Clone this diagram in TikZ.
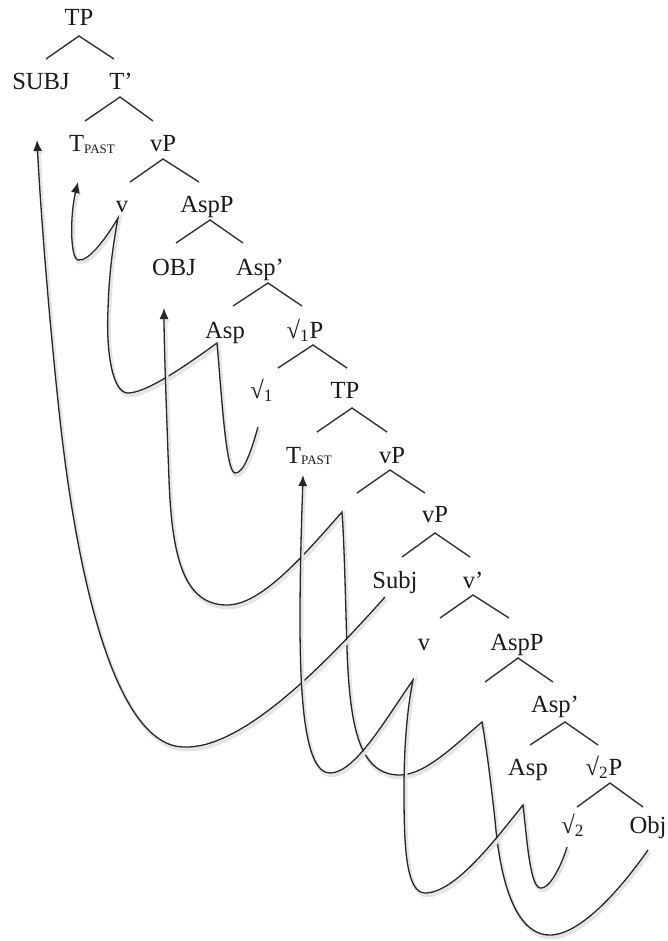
\documentclass[tikz,border=0pt]{standalone}
\usepackage{fontspec}
\setmainfont{Liberation Serif}
\usetikzlibrary{arrows.meta}
\newcommand\tpast{\raisebox{-0.8pt}{\fontsize{6.5}{7}\selectfont PAST}}
\begin{document}
\begin{tikzpicture}[x=0.5pt,y=-0.5pt,
  lbl/.style={anchor=base,inner sep=0pt,font=\fontsize{12.3}{14}\selectfont,text=black!90},
  br/.style={draw=black!80,line width=0.7pt},
  mv/.style={draw=black!85,line width=0.65pt,
    preaction={draw=black!10,line width=1.8pt,transform canvas={shift={(1.5,2.5)}}}},
  tip/.style={-{Latex[length=5.5pt,width=4.5pt]}}]
\useasboundingbox (0,0) rectangle (668,941);

% ---- labels ----
\node[lbl] (TPa) at (79,26) {TP};
\node[lbl] (SUBJ) at (41,90) {SUBJ};
\node[lbl] (Tbar) at (121,90) {T’};
\node[lbl] (Ta) at (92,152) {T\tpast};
\node[lbl] (vPa) at (163,152) {vP};
\node[lbl] (va) at (122,213) {v};
\node[lbl] (AspPa) at (207,213) {AspP};
\node[lbl] (OBJ) at (174,275) {OBJ};
\node[lbl] (Aspbara) at (260,275) {Asp’};
\node[lbl] (Aspa) at (225,338) {Asp};
\node[lbl] (RPa) at (305,338) {√\textsubscript{1}P};
\node[lbl] (Ra) at (262,398) {√\textsubscript{1}};
\node[lbl] (TPb) at (345,398) {TP};
\node[lbl] (Tb) at (309,463) {T\tpast};
\node[lbl] (vPb) at (392,463) {vP};
\node[lbl] (vPc) at (435,522) {vP};
\node[lbl] (Subj) at (395,588) {Subj};
\node[lbl] (vbar) at (473,588) {v’};
\node[lbl] (vb) at (424,650) {v};
\node[lbl] (AspPb) at (517,650) {AspP};
\node[lbl] (Aspbarb) at (555,712) {Asp’};
\node[lbl] (Aspb) at (528,775) {Asp};
\node[lbl] (RPb) at (604,775) {√\textsubscript{2}P};
\node[lbl] (Rb) at (573,833) {√\textsubscript{2}};
\node[lbl] (Obj) at (648,833) {Obj};

% ---- branches ----
\coordinate (b1) at (79,36);   \coordinate (b1l) at (46,59);   \coordinate (b1r) at (114,59);
\coordinate (b2) at (120,97);  \coordinate (b2l) at (85,121);  \coordinate (b2r) at (153,121);
\coordinate (b3) at (163,159); \coordinate (b3l) at (130,182); \coordinate (b3r) at (199,182);
\coordinate (b4) at (210,220); \coordinate (b4l) at (176,243); \coordinate (b4r) at (243,243);
\coordinate (b5) at (268,283); \coordinate (b5l) at (233,306); \coordinate (b5r) at (302,306);
\coordinate (b6) at (313,345); \coordinate (b6l) at (278,368); \coordinate (b6r) at (347,368);
\coordinate (b7) at (352,408); \coordinate (b7l) at (317,432); \coordinate (b7r) at (387,432);
\coordinate (b8) at (390,470); \coordinate (b8l) at (357,493); \coordinate (b8r) at (425,493);
\coordinate (b9) at (435,533); \coordinate (b9l) at (402,557); \coordinate (b9r) at (470,557);
\coordinate (b10) at (473,595); \coordinate (b10l) at (440,618); \coordinate (b10r) at (509,618);
\coordinate (b11) at (518,658); \coordinate (b11l) at (485,682); \coordinate (b11r) at (553,682);
\coordinate (b12) at (565,722); \coordinate (b12l) at (530,745); \coordinate (b12r) at (598,745);
\coordinate (b13) at (610,783); \coordinate (b13l) at (577,807); \coordinate (b13r) at (643,807);
\foreach \i in {1,...,13} {\draw[br] (b\i l) -- (b\i) -- (b\i r);}

% ---- movement points ----
\coordinate (sRa) at (258,427);  \coordinate (cAspa) at (217,343);
\coordinate (cva) at (118,218);  \coordinate (hTa) at (78,182);
\coordinate (sObj) at (648,850); \coordinate (cAsp2) at (482,722);
\coordinate (cvP) at (342,512);  \coordinate (hOBJ) at (164,308);
\coordinate (sSubj) at (385,597); \coordinate (hSUBJ) at (37,140);
\coordinate (sRb) at (567,847);  \coordinate (cAspb) at (523,805);
\coordinate (cvb) at (413,680);  \coordinate (hTb) at (303,475);

% chain A: root1 -> Asp -> v -> T
\draw[mv,tip] (sRa) .. controls (252,448) and (244,474) .. (235,473)
  .. controls (226,472) and (222,400) .. (cAspa)
  .. controls (180,370) and (145,393) .. (128,393)
  .. controls (112,393) and (106,350) .. (108,310)
  .. controls (109,270) and (114,240) .. (cva)
  .. controls (105,240) and (88,262) .. (78,260)
  .. controls (70,258) and (70,215) .. (hTa);

% chain B: Obj -> OBJ
\draw[mv,tip] (sObj) .. controls (620,890) and (580,935) .. (550,935)
  .. controls (515,935) and (500,880) .. (495,820)
  .. controls (490,775) and (486,745) .. (cAsp2)
  .. controls (455,745) and (425,775) .. (400,775)
  .. controls (360,775) and (350,730) .. (347,650)
  .. controls (345,580) and (344,540) .. (cvP)
  .. controls (300,560) and (260,605) .. (227,605)
  .. controls (185,605) and (172,560) .. (169,480)
  .. controls (166,400) and (164,340) .. (hOBJ);

% chain C: Subj -> SUBJ
\draw[mv,tip] (sSubj) .. controls (320,670) and (240,750) .. (183,747)
  .. controls (120,745) and (80,600) .. (60,420)
  .. controls (48,310) and (40,200) .. (hSUBJ);

% chain D: root2 -> Asp -> v -> T
\draw[mv,tip] (sRb) .. controls (560,870) and (548,890) .. (540,888)
  .. controls (530,886) and (527,840) .. (cAspb)
  .. controls (495,840) and (455,893) .. (425,893)
  .. controls (405,893) and (404,840) .. (404,790)
  .. controls (404,740) and (408,705) .. (cvb)
  .. controls (385,720) and (355,773) .. (330,773)
  .. controls (305,773) and (300,700) .. (300,620)
  .. controls (300,560) and (302,510) .. (hTb);
\end{tikzpicture}
\end{document}
